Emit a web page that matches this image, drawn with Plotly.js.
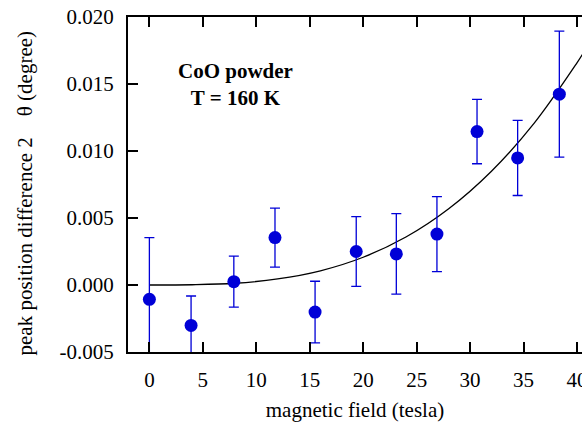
<!DOCTYPE html>
<html>
<head>
<meta charset="utf-8">
<script src="https://cdn.plot.ly/plotly-3.0.1.min.js"></script>
<style>html,body{margin:0;padding:0;overflow:hidden;background:#fff}</style>
</head>
<body>
<div id="chart" style="width:582px;height:425px"></div>
<script>
// Measured data points
const fieldTesla = [0, 3.9, 7.9, 11.75, 15.5, 19.35, 23.1, 26.9, 30.65, 34.45, 38.35];
const peakDiff = [-0.00107, -0.00302, 0.00025, 0.00354, -0.00202, 0.0025, 0.00232, 0.0038, 0.01145, 0.00948, 0.01424];
const peakErr = [0.0046, 0.0022, 0.0019, 0.0022, 0.0023, 0.0026, 0.003, 0.0028, 0.0024, 0.0028, 0.0047];

// Fit curve
const fitX = [0, 4, 8, 12, 16, 20, 24, 28, 32, 36, 40, 40.5];
const fitY = [0, 0.00002, 0.00013, 0.00045, 0.00106, 0.00207, 0.00358, 0.00569, 0.00849, 0.01208, 0.01658, 0.0172];

const xTicks = [0, 5, 10, 15, 20, 25, 30, 35, 40];
const yTicks = [-0.005, 0.000, 0.005, 0.010, 0.015, 0.020];
const yTickText = ["-0.005", "0.000", "0.005", "0.010", "0.015", "0.020"];
const xTitle = "magnetic field (tesla)";
const yTitle = "peak position difference 2\u00A0\u00A0\u00A0\u00A0θ (degree)";
const label = "<b>CoO powder</b><br><b>T = 160 K</b>";

const blue = "rgb(0,0,215)";
const FONT = "Liberation Serif, Times New Roman, serif";
const FS = 21;

const traces = [
  {
    x: fitX, y: fitY, type: "scatter", mode: "lines",
    line: {color: "#000", width: 1.3, shape: "spline"},
    hoverinfo: "skip", showlegend: false
  },
  {
    x: fieldTesla, y: peakDiff, type: "scatter", mode: "markers",
    marker: {color: blue, size: 13},
    error_y: {type: "data", array: peakErr, symmetric: true, color: blue, thickness: 1.3, width: 5},
    showlegend: false
  }
];

const layout = {
  width: 582, height: 425,
  margin: {l: 128, r: 0, t: 17, b: 73, pad: 0},
  paper_bgcolor: "#fff", plot_bgcolor: "#fff",
  font: {family: FONT, size: FS, color: "#000"},
  showlegend: false,
  xaxis: {
    range: [-2, 40.47],
    tickvals: xTicks, ticktext: xTicks.map(String),
    ticks: "inside", ticklen: 10, tickwidth: 2, tickcolor: "#000",
    showline: true, linewidth: 2, linecolor: "#000", mirror: "ticks",
    showgrid: false, zeroline: false,
    ticklabelstandoff: 8, ticklabeloverflow: "allow",
    tickfont: {family: FONT, size: FS},
    title: {text: xTitle, font: {family: FONT, size: FS}, standoff: 11}
  },
  yaxis: {
    range: [-0.005, 0.020],
    tickvals: yTicks, ticktext: yTickText,
    ticks: "inside", ticklen: 10, tickwidth: 2, tickcolor: "#000",
    showline: true, linewidth: 2, linecolor: "#000",
    showgrid: false, zeroline: false,
    ticklabelstandoff: 8, ticklabeloverflow: "allow",
    tickfont: {family: FONT, size: FS}
  },
  annotations: [
    {
      x: 8.1, y: 0.01497, xref: "x", yref: "y",
      text: label,
      showarrow: false, align: "center",
      font: {family: FONT, size: FS, color: "#000"}
    },
    {
      x: -0.227, y: 0.476, xref: "paper", yref: "paper",
      xanchor: "center", yanchor: "middle",
      text: yTitle, textangle: -90,
      showarrow: false,
      font: {family: FONT, size: FS, color: "#000"}
    }
  ]
};

Plotly.newPlot("chart", traces, layout, {displayModeBar: false, staticPlot: true});
</script>
</body>
</html>
